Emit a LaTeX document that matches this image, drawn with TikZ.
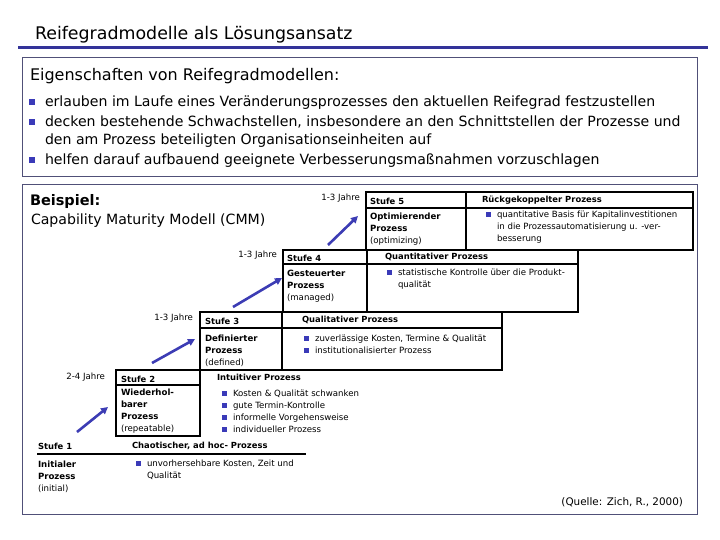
\documentclass[tikz,border=0pt]{standalone}
\usepackage{fontspec}
\setmainfont{DejaVu Sans}
\usetikzlibrary{arrows.meta, positioning}
\definecolor{titleline}{HTML}{333399}
\definecolor{framecol}{HTML}{505078}
\definecolor{arrowcol}{HTML}{3C3CB4}
\definecolor{bulletcol}{HTML}{3A3AB8}
\newcommand{\bigbul}{\raisebox{1.5pt}{\textcolor{bulletcol}{\rule{6pt}{6pt}}}}
\newcommand{\smallbul}{\raisebox{0.8pt}{\textcolor{bulletcol}{\rule{5pt}{5pt}}}}

\begin{document}
\begin{tikzpicture}[
  x=1pt, y=-1pt,
  every node/.style={inner sep=0pt, outer sep=0pt},
  frame/.style={draw=framecol, line width=0.8pt},
  tab/.style={draw=black, line width=1.6pt},
  big/.style={font=\fontsize{14.1}{19}\selectfont, anchor=west},
  hdr/.style={font=\fontsize{8.4}{12}\selectfont\bfseries, anchor=west},
  body/.style={font=\fontsize{8.6}{12}\selectfont, anchor=north west, align=left},
  dur/.style={font=\fontsize{8.6}{9}\selectfont, anchor=east},
  up/.style={-{Triangle[length=7pt,width=7pt]}, draw=arrowcol, line width=2.6pt}
]
  \useasboundingbox (0,0) rectangle (720,540);
  % title
  \node[font=\fontsize{17.4}{20}\selectfont, anchor=west] (title) at (35,35) {Reifegradmodelle als Lösungsansatz};
  \draw[titleline, line width=3pt] (18,48) -- (708,48);
  % properties box
  \draw[frame] (22,57) rectangle (697,176);
  \node[font=\fontsize{16}{18}\selectfont, anchor=west] (props) at (30,76) {Eigenschaften von Reifegradmodellen:};
  \node[big] (p1) at (29,103) {\bigbul\hspace{10pt}erlauben im Laufe eines Veränderungsprozesses den aktuellen Reifegrad festzustellen};
  \node[big] (p2) at (29,122) {\bigbul\hspace{10pt}decken bestehende Schwachstellen, insbesondere an den Schnittstellen der  Prozesse und};
  \node[big] (p2b) at (45,141) {den am Prozess beteiligten Organisationseinheiten auf};
  \node[big] (p3) at (29,161) {\bigbul\hspace{10pt}helfen darauf aufbauend geeignete Verbesserungsmaßnahmen vorzuschlagen};
  % example box
  \draw[frame] (22,184) rectangle (697,514);
  \node[font=\fontsize{14.5}{18}\selectfont\bfseries, anchor=west] (bsp) at (30,202) {Beispiel:};
  \node[font=\fontsize{14.1}{18}\selectfont, anchor=west] (cmm) at (31,221) {Capability Maturity Modell (CMM)};
  \node[font=\fontsize{10.4}{14}\selectfont, anchor=east] (quelle) at (683,502) {(Quelle: Zich, R., 2000)};

  % Stufe 5
  \draw[tab] (366,192) rectangle (693,250);
  \draw[tab] (366,208) -- (693,208);
  \draw[tab] (466,192) -- (466,250);
  \node[hdr] (s5) at (370,201) {Stufe 5};
  \node[hdr] (h5) at (482,200) {Rückgekoppelter Prozess};
  \node[body] (b5) at (370,213) {\textbf{Optimierender}\\\textbf{Prozess}\\(optimizing)};
  \node[body] (t5) at (486,211) {\smallbul\hspace{6pt}quantitative Basis für Kapitalinvestitionen\\\hspace{11pt}in die Prozessautomatisierung u. -ver-\\\hspace{11pt}besserung};
  % Stufe 4
  \draw[tab] (283,250) rectangle (578,312);
  \draw[tab] (283,264) -- (578,264);
  \draw[tab] (367,250) -- (367,312);
  \node[hdr] (s4) at (287,258) {Stufe 4};
  \node[hdr] (h4) at (385,257) {Quantitativer Prozess};
  \node[body] (b4) at (287,270) {\textbf{Gesteuerter}\\\textbf{Prozess}\\(managed)};
  \node[body] (t4) at (387,269) {\smallbul\hspace{6pt}statistische Kontrolle über die Produkt-\\\hspace{11pt}qualität};
  % Stufe 3
  \draw[tab] (200,312) rectangle (502,370);
  \draw[tab] (200,328) -- (502,328);
  \draw[tab] (282,312) -- (282,370);
  \node[hdr] (s3) at (205,321) {Stufe 3};
  \node[hdr] (h3) at (302,320) {Qualitativer Prozess};
  \node[body] (b3) at (205,335) {\textbf{Definierter}\\\textbf{Prozess}\\(defined)};
  \node[body] (t3) at (304,335) {\smallbul\hspace{6pt}zuverlässige Kosten, Termine \& Qualität\\\smallbul\hspace{6pt}institutionalisierter Prozess};
  % Stufe 2
  \draw[tab] (116,370) rectangle (200,436);
  \draw[tab] (116,385) -- (200,385);
  \node[hdr] (s2) at (121,379) {Stufe 2};
  \node[hdr] (h2) at (217,377) {Intuitiver Prozess};
  \node[body] (b2) at (121,389) {\textbf{Wiederhol-}\\\textbf{barer}\\\textbf{Prozess}\\(repeatable)};
  \node[body] (t2) at (222,390) {\smallbul\hspace{6pt}Kosten \& Qualität schwanken\\\smallbul\hspace{6pt}gute Termin-Kontrolle\\\smallbul\hspace{6pt}informelle Vorgehensweise\\\smallbul\hspace{6pt}individueller Prozess};
  % Stufe 1
  \draw[tab] (37,454) -- (306,454);
  \node[hdr] (s1) at (38,446) {Stufe 1};
  \node[hdr] (h1) at (132,446) {Chaotischer, ad hoc- Prozess};
  \node[body] (b1) at (38,461) {\textbf{Initialer}\\\textbf{Prozess}\\(initial)};
  \node[body] (t1) at (136,460) {\smallbul\hspace{6pt}unvorhersehbare Kosten, Zeit und\\\hspace{11pt}Qualität};

  % durations and arrows
  \node[dur] (d5) at (360,198) {1-3 Jahre};
  \node[dur] (d4) at (277,255) {1-3 Jahre};
  \node[dur] (d3) at (193,318) {1-3 Jahre};
  \node[dur] (d2) at (105,377) {2-4 Jahre};
  \coordinate (a5s) at (328,245);
  \coordinate (a5e) at (358,216);
  \coordinate (a4s) at (233,307);
  \coordinate (a4e) at (282,278);
  \coordinate (a3s) at (152,363);
  \coordinate (a3e) at (195,339);
  \coordinate (a2s) at (77,432);
  \coordinate (a2e) at (108,407);
  \draw[up] (a5s) -- (a5e);
  \draw[up] (a4s) -- (a4e);
  \draw[up] (a3s) -- (a3e);
  \draw[up] (a2s) -- (a2e);
\end{tikzpicture}
\end{document}
